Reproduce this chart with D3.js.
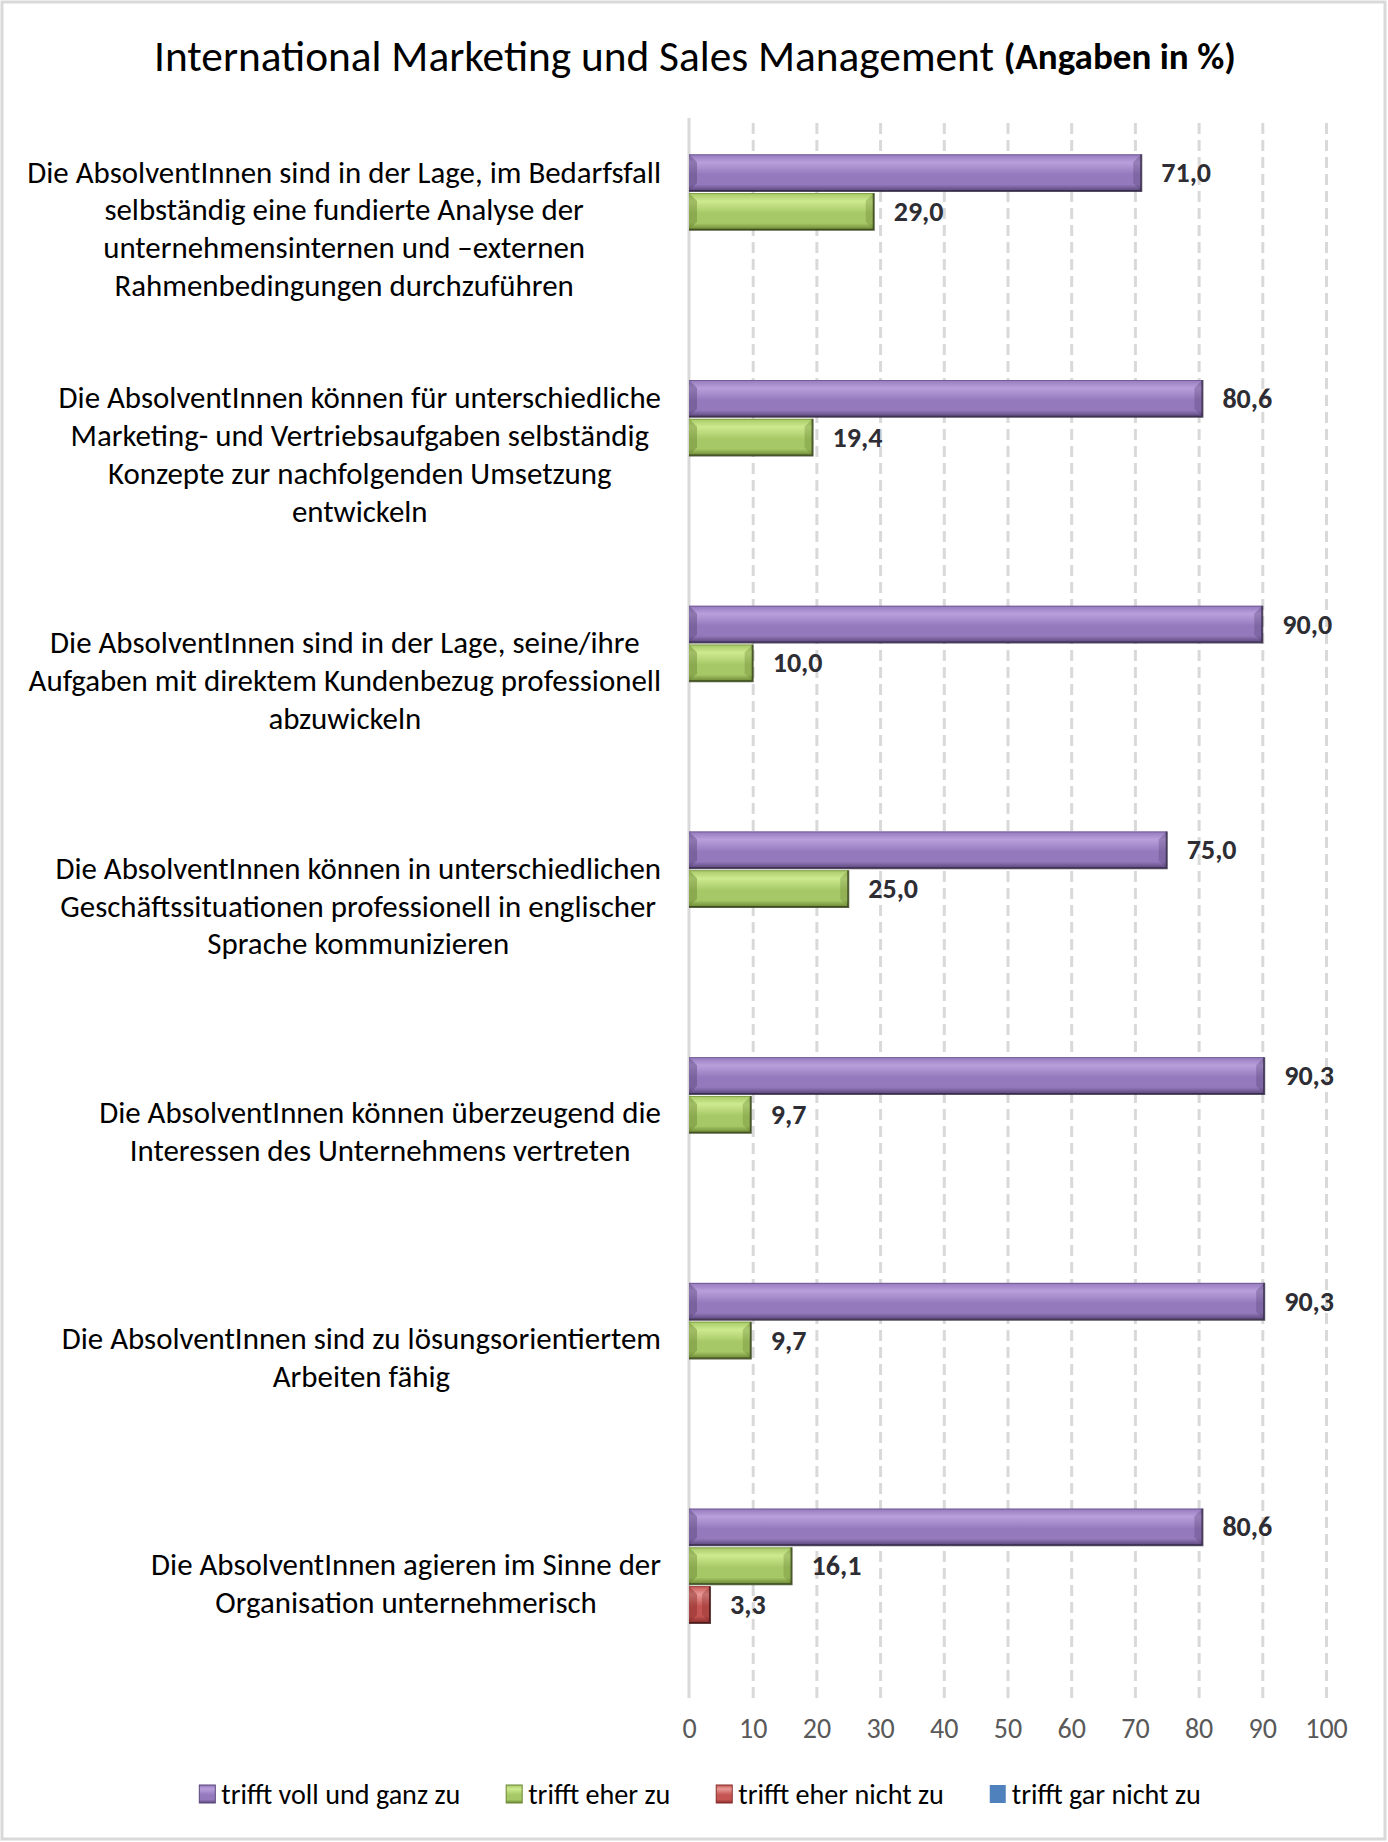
<!DOCTYPE html>
<html lang="de">
<head>
<meta charset="UTF-8">
<title>International Marketing und Sales Management</title>
<script src="https://d3js.org/d3.v7.min.js"></script>
<style>
  body { margin: 0; background: #fff; }
  svg { display: block; font-family: Carlito, Calibri, Lato, sans-serif; }
</style>
</head>
<body>
<div id="chart"></div>
<script>
// ---- data ----
const categories = [
  "Die AbsolventInnen sind in der Lage, im Bedarfsfall\nselbständig eine fundierte Analyse der\nunternehmensinternen und –externen\nRahmenbedingungen durchzuführen",
  "Die AbsolventInnen können für unterschiedliche\nMarketing- und Vertriebsaufgaben selbständig\nKonzepte zur nachfolgenden Umsetzung\nentwickeln",
  "Die AbsolventInnen sind in der Lage, seine/ihre\nAufgaben mit direktem Kundenbezug professionell\nabzuwickeln",
  "Die AbsolventInnen können in unterschiedlichen\nGeschäftssituationen professionell in englischer\nSprache kommunizieren",
  "Die AbsolventInnen können überzeugend die\nInteressen des Unternehmens vertreten",
  "Die AbsolventInnen sind zu lösungsorientiertem\nArbeiten fähig",
  "Die AbsolventInnen agieren im Sinne der\nOrganisation unternehmerisch"
];
const seriesNames = ["trifft voll und ganz zu", "trifft eher zu", "trifft eher nicht zu", "trifft gar nicht zu"];
const vollUndGanz = [71.0, 80.6, 90.0, 75.0, 90.3, 90.3, 80.6];
const eherZu      = [29.0, 19.4, 10.0, 25.0, 9.7, 9.7, 16.1];
const eherNicht   = [null, null, null, null, null, null, 3.3];
const garNicht    = [null, null, null, null, null, null, null];
const xTicks = [0, 10, 20, 30, 40, 50, 60, 70, 80, 90, 100];

const seriesValues = [vollUndGanz, eherZu, eherNicht, garNicht];
const colors = [
  { light: "#b9a0dc", mid: "#9479bc", dark: "#5a4679", edge: "#2e2440" },
  { light: "#cdea8f", mid: "#a6c866", dark: "#6b8634", edge: "#2f3c14" },
  { light: "#e89a97", mid: "#c45552", dark: "#862c2a", edge: "#3d1211" },
  { light: "#4f81bd", mid: "#4f81bd", dark: "#4f81bd", edge: "#4f81bd" }
];

const W = 1388, H = 1842;
const svg = d3.select("#chart").append("svg")
  .attr("width", W).attr("height", H);

svg.append("rect")
  .attr("x", 2).attr("y", 2).attr("width", W - 5).attr("height", H - 5)
  .attr("fill", "#fff").attr("stroke", "#d9d9d9").attr("stroke-width", 3);

// gradients
const defs = svg.append("defs");
colors.forEach((c, i) => {
  const g = defs.append("linearGradient").attr("id", "grad" + i)
    .attr("x1", 0).attr("y1", 0).attr("x2", 0).attr("y2", 1);
  g.append("stop").attr("offset", "0%").attr("stop-color", c.mid);
  g.append("stop").attr("offset", "22%").attr("stop-color", c.light);
  g.append("stop").attr("offset", "55%").attr("stop-color", c.mid);
  g.append("stop").attr("offset", "82%").attr("stop-color", c.mid);
  g.append("stop").attr("offset", "100%").attr("stop-color", c.dark);
});

// scales
const x = d3.scaleLinear().domain([0, 100]).range([689, 1326]);
const y = d3.scaleBand().domain(d3.range(categories.length))
  .range([118, 1698]).paddingInner(0.3127).paddingOuter(0.3127 / 2);
const ySub = d3.scaleBand().domain(d3.range(seriesNames.length))
  .range([0, y.bandwidth()]);

// grid
const grid = svg.append("g")
  .attr("transform", "translate(0,1698)")
  .call(d3.axisBottom(x).tickValues(xTicks.slice(1)).tickSize(-(1698 - 118)).tickFormat(""));
grid.select(".domain").remove();
grid.selectAll("line").attr("stroke", "#d9d9d9").attr("stroke-width", 3)
  .attr("stroke-dasharray", "11,6");

svg.append("line")
  .attr("x1", x(0)).attr("x2", x(0)).attr("y1", 118).attr("y2", 1698)
  .attr("stroke", "#d9d9d9").attr("stroke-width", 3);

// tick labels
const axis = svg.append("g")
  .attr("transform", "translate(0,1698)")
  .call(d3.axisBottom(x).tickValues(xTicks).tickSize(0).tickPadding(20));
axis.select(".domain").remove();
axis.selectAll("text").attr("font-size", 28).attr("fill", "#595959")
  .attr("font-family", "Carlito, Calibri, Lato, sans-serif");

// bars
const bh = ySub.bandwidth() - 2;
const bev = 8;
seriesValues.forEach((vals, si) => {
  const c = colors[si];
  vals.forEach((v, ci) => {
    if (v == null) return;
    const x0 = x(0), x1 = x(v);
    const y0 = y(ci) + ySub(si) + 1, y1 = y0 + bh;
    const g = svg.append("g");
    g.append("rect").attr("x", x0).attr("y", y0).attr("width", x1 - x0).attr("height", bh)
      .attr("fill", "url(#grad" + si + ")");
    const b = Math.min(bev, (x1 - x0) / 2);
    // left bevel
    g.append("path")
      .attr("d", `M${x0},${y0}L${x0 + b},${y0 + bev}L${x0 + b},${y1 - bev}L${x0},${y1}Z`)
      .attr("fill", c.dark).attr("opacity", 0.45);
    // right bevel
    g.append("path")
      .attr("d", `M${x1},${y0}L${x1 - b},${y0 + bev}L${x1 - b},${y1 - bev}L${x1},${y1}Z`)
      .attr("fill", c.dark).attr("opacity", 0.35);
    // bottom and right edge
    g.append("path")
      .attr("d", `M${x0},${y1}L${x1},${y1}L${x1},${y0}`)
      .attr("fill", "none").attr("stroke", c.edge).attr("stroke-width", 2).attr("opacity", 0.8);
    g.append("line").attr("x1", x0).attr("x2", x1).attr("y1", y0 + 0.5).attr("y2", y0 + 0.5)
      .attr("stroke", c.dark).attr("stroke-width", 1).attr("opacity", 0.6);

    svg.append("text")
      .attr("x", x1 + 20).attr("y", (y0 + y1) / 2)
      .attr("dominant-baseline", "central")
      .attr("font-size", 28).attr("font-weight", "bold").attr("fill", "#2d2d33")
      .text(d3.format(".1f")(v).replace(".", ","));
  });
});

// category labels
const labelRight = 661, lineH = 37.8;
const labels = svg.append("g").attr("font-size", 27).attr("fill", "#000");
// fit font to the reference width of the widest line
const probe = labels.append("text").text(categories[0].split("\n")[0]);
const fs = 27 * 634 / probe.node().getComputedTextLength();
probe.remove();
labels.attr("font-size", fs);
categories.forEach((cat, ci) => {
  const lines = cat.split("\n");
  const t = labels.append("text").attr("text-anchor", "middle");
  const cy = y(ci) + y.bandwidth() / 2 - 2;
  lines.forEach((ln, li) => {
    t.append("tspan").attr("y", cy + (li - (lines.length - 1) / 2) * lineH)
      .attr("dominant-baseline", "central").text(ln);
  });
  let maxW = 0;
  t.selectAll("tspan").each(function () { maxW = Math.max(maxW, this.getComputedTextLength()); });
  t.selectAll("tspan").attr("x", labelRight - maxW / 2);
});

// title
const title = svg.append("text").attr("y", 56).attr("dominant-baseline", "central");
const t1 = title.append("tspan").attr("font-size", 38).text("International Marketing und Sales Management ");
const t2 = title.append("tspan").attr("font-size", 29).attr("font-weight", "bold").text("(Angaben in %)");
t1.attr("font-size", 38 * 850 / t1.node().getComputedTextLength());
t2.attr("font-size", 29 * 232 / t2.node().getComputedTextLength());
title.attr("x", 154);

// legend
const legend = svg.append("g").attr("font-size", 28);
const lprobe = legend.append("text").text(seriesNames[0]);
legend.attr("font-size", 28 * 239 / lprobe.node().getComputedTextLength());
lprobe.remove();
let lx = 0;
seriesNames.forEach((name, si) => {
  const g = legend.append("g").attr("transform", `translate(${lx},0)`);
  g.append("rect").attr("x", 0).attr("y", -9).attr("width", 16).attr("height", 18)
    .attr("fill", si === 3 ? colors[3].mid : "url(#grad" + si + ")")
    .attr("stroke", si === 3 ? "none" : colors[si].dark).attr("stroke-width", 1);
  const tx = g.append("text").attr("x", 22).attr("dominant-baseline", "central")
    .attr("fill", "#000").text(name);
  lx += 22 + tx.node().getComputedTextLength() + 46;
});
const legendW = lx - 46;
legend.attr("transform", `translate(${700 - legendW / 2},1794)`);
</script>
</body>
</html>
